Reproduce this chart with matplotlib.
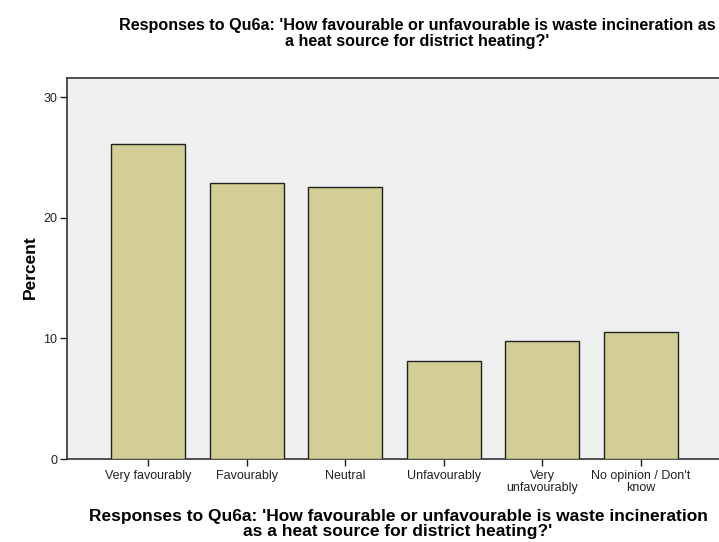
import matplotlib
matplotlib.use("Agg")
import matplotlib.pyplot as plt

categories = ["Very favourably", "Favourably", "Neutral", "Unfavourably",
              "Very\nunfavourably", "No opinion / Don't\nknow"]
percent = [26.1, 22.9, 22.6, 8.1, 9.8, 10.5]
yticks = [0, 10, 20, 30]
title_lines = ["Responses to Qu6a: 'How favourable or unfavourable is waste incineration as",
               "a heat source for district heating?'"]
xlabel = "Responses to Qu6a: 'How favourable or unfavourable is waste incineration\nas a heat source for district heating?'"
ylabel = "Percent"

plt.rcParams['font.family'] = ['Liberation Sans', 'DejaVu Sans']

W, H = 719, 542
fig = plt.figure(figsize=(W / 100, H / 100), dpi=100)
ax_l, ax_r, ax_t, ax_b = 67, 719, 78, 459
ax = fig.add_axes([ax_l / W, (H - ax_b) / H, (ax_r - ax_l) / W, (ax_b - ax_t) / H])
ax.set_facecolor('#F0F0F0')

x = list(range(len(categories)))
ax.bar(x, percent, width=0.75, color='#D2CE96', edgecolor='#222222', linewidth=1.0, zorder=3)

ax.set_xlim(-0.82, 5.79)
ax.set_ylim(0, 31.6)
ax.set_yticks(yticks)
ax.set_yticklabels([str(v) for v in yticks], fontsize=9, color='#222222')
ax.set_xticks(x)
ax.set_xticklabels(categories, fontsize=9, color='#222222', linespacing=0.95)
ax.tick_params(axis='both', length=5, width=1, color='#222222')
ax.tick_params(axis='x', pad=3)
ax.tick_params(axis='y', pad=2)

for s in ['left', 'bottom', 'top']:
    ax.spines[s].set_color('#333333')
    ax.spines[s].set_linewidth(1.2)
ax.spines['right'].set_visible(False)

ax.set_ylabel(ylabel, fontsize=12.5, fontweight='bold')
ax.yaxis.set_label_coords((38 - ax_l) / (ax_r - ax_l), (ax_b - 267) / (ax_b - ax_t))
ax.set_xlabel(xlabel, fontsize=12.5, fontweight='bold', linespacing=1.0)
ax.xaxis.set_label_coords((398 - ax_l) / (ax_r - ax_l), -(509 - ax_b) / (ax_b - ax_t))

fig.text(417 / W, 1 - 30 / H, title_lines[0], fontsize=11.6, fontweight='bold', ha='center', va='baseline')
fig.text(417 / W, 1 - 46 / H, title_lines[1], fontsize=11.6, fontweight='bold', ha='center', va='baseline')

fig.savefig('out.png', dpi=100)
